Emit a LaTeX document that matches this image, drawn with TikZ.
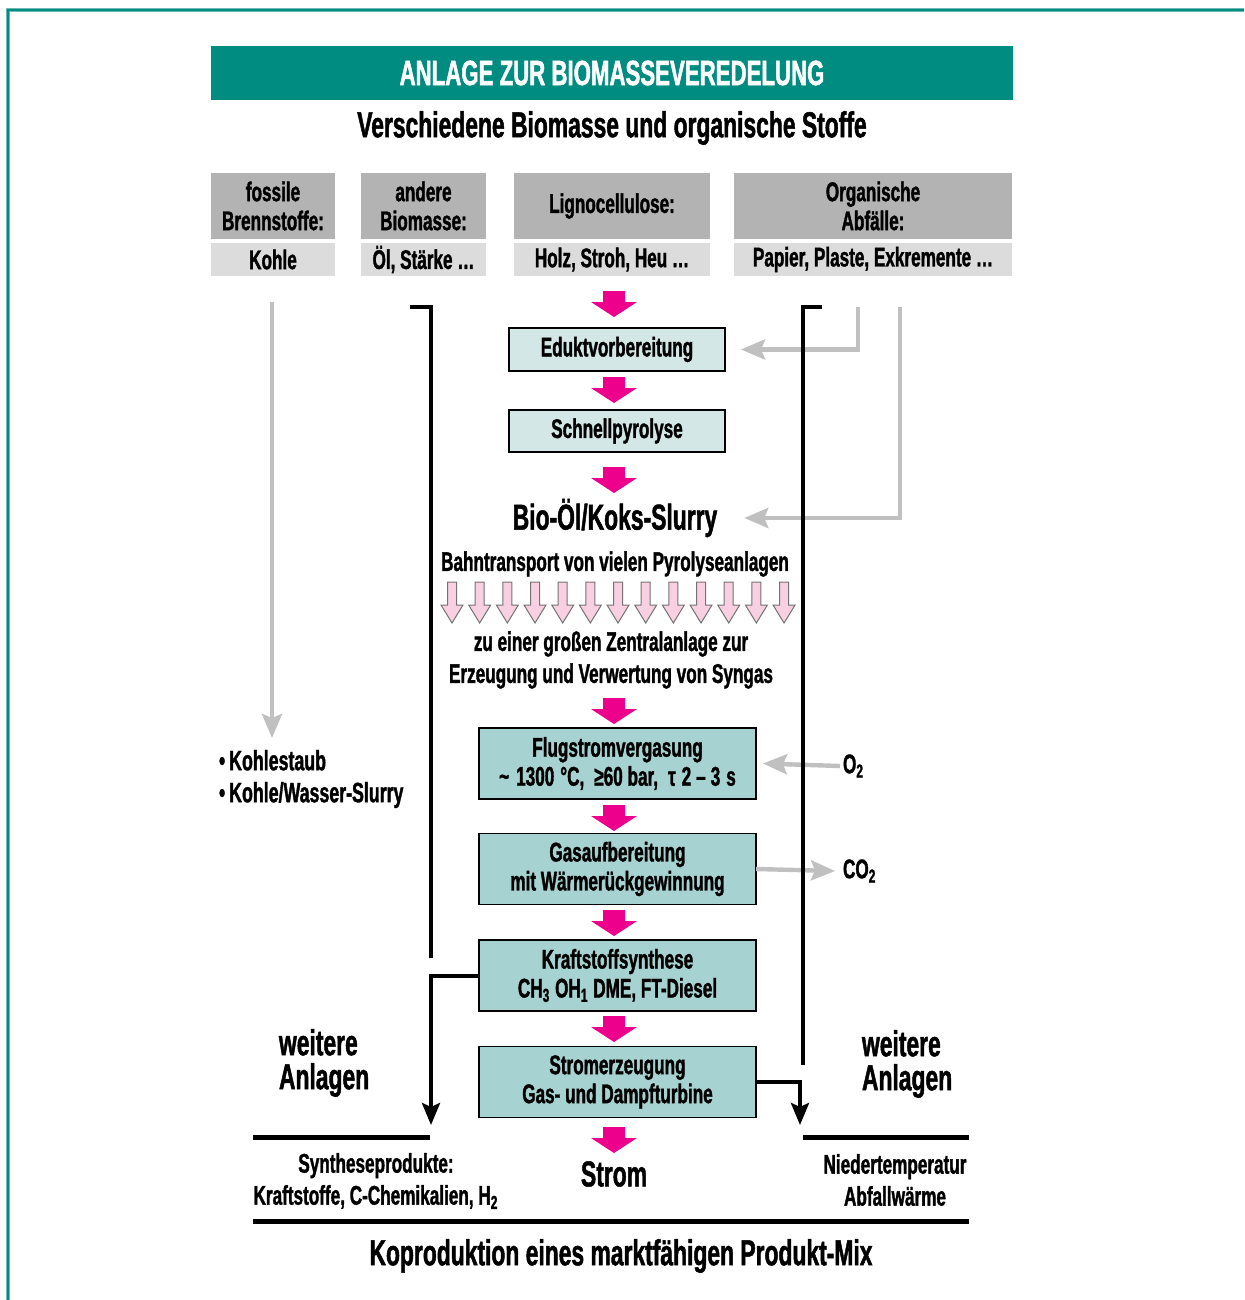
\documentclass[tikz,border=0pt]{standalone}
\usepackage{fontspec}
\setmainfont{Liberation Sans}[FakeStretch=0.635, BoldFeatures={FakeBold=1.3}]
\usetikzlibrary{arrows.meta,calc}
\definecolor{tealA}{HTML}{008C80}
\definecolor{boxlight}{HTML}{D3E8E6}
\definecolor{boxmid}{HTML}{A6D3D1}
\definecolor{catdark}{HTML}{B3B3B3}
\definecolor{catlight}{HTML}{DCDCDC}
\definecolor{mag}{HTML}{EC008C}
\definecolor{pinkl}{HTML}{F9D0E2}
\definecolor{grayarr}{HTML}{C0C0C0}
\begin{document}
\begin{tikzpicture}[x=0.5pt,y=-0.5pt,
  every node/.style={inner sep=0pt, outer sep=0pt},
  txt/.style={font=\bfseries\fontsize{13.5}{14.5}\selectfont, align=center},
  big/.style={font=\bfseries\fontsize{18}{17}\selectfont, align=center},
  cattop/.style={fill=catdark, minimum height=33pt, txt},
  catbot/.style={fill=catlight, minimum height=16.5pt, txt},
  procA/.style={draw=black, line width=0.8pt, fill=boxlight, minimum width=108pt, minimum height=21.5pt, txt},
  procB/.style={draw=black, line width=0.8pt, fill=boxmid, minimum width=138.5pt, minimum height=35.5pt, txt},
  gline/.style={draw=grayarr, line width=2.2pt, -{Stealth[length=12pt,width=10pt,inset=2pt]}},
  bline/.style={draw=black, line width=2pt},
  barrow/.style={draw=black, line width=2pt, -{Stealth[length=11pt,width=9pt,inset=2pt]}},
  rule/.style={draw=black, line width=2.5pt},
  magarrow/.pic={\fill[mag] (-11,0) -- (11,0) -- (11,11) -- (23,11) -- (0,26) -- (-23,11) -- (-11,11) -- cycle;},
  pinkarrow/.pic={\draw[draw=black!55, fill=pinkl, line width=0.5pt] (-4.5,0) -- (4.5,0) -- (4.5,23) -- (11,23) -- (0,41) -- (-11,23) -- (-4.5,23) -- cycle;}
]
\useasboundingbox (0,0) rectangle (1244,1300);
% frame
\draw[tealA!60, line width=2pt] (8,1300) -- (8,10) -- (1244,10);
\draw[tealA, line width=1pt] (8,1300) -- (8,10) -- (1244,10);
% header
\node[fill=tealA, minimum width=401pt, minimum height=27pt, text=white, font=\bfseries\fontsize{17.5}{18}\selectfont] (head) at (612,73) {ANLAGE ZUR BIOMASSEVEREDELUNG};
\node[big] (sub) at (612,128) {Verschiedene Biomasse und organische Stoffe};
% categories
\node[cattop, minimum width=62pt] (c1t) at (273,206) {fossile\\Brennstoffe:};
\node[catbot, minimum width=62pt] (c1b) at (273,259.5) {Kohle};
\node[cattop, minimum width=62.5pt] (c2t) at (423.5,206) {andere\\Biomasse:};
\node[catbot, minimum width=62.5pt] (c2b) at (423.5,259.5) {Öl, Stärke …};
\node[cattop, minimum width=98pt] (c3t) at (612,206) {Lignocellulose:};
\node[catbot, minimum width=98pt] (c3b) at (612,259.5) {Holz, Stroh, Heu …};
\node[cattop, minimum width=139pt] (c4t) at (873,206) {Organische\\Abfälle:};
\node[catbot, minimum width=139pt] (c4b) at (873,259.5) {Papier, Plaste, Exkremente …};
% process chain
\node[procA] (edukt) at (617,349.5) {Eduktvorbereitung};
\node[procA, minimum height=21pt] (schnell) at (617,431) {Schnellpyrolyse};
\node[big] (bio) at (615,518) {Bio-Öl/Koks-Slurry};
\node[txt] (bahn) at (615,564) {Bahntransport von vielen Pyrolyseanlagen};
\node[txt, font=\bfseries\fontsize{13.5}{16}\selectfont] (zentral) at (611,660) {zu einer großen Zentralanlage zur\\Erzeugung und Verwertung von Syngas};
\node[procB] (flug) at (617.5,763.5) {Flugstromvergasung\\\textasciitilde\hspace{3.5pt}1300\hspace{3pt}°C,\hspace{5pt}≥60 bar,\hspace{5pt}τ\hspace{3pt}2\hspace{2.5pt}–\hspace{2.5pt}3\hspace{3pt}s};
\node[procB] (gas) at (617.5,869) {Gasaufbereitung\\mit Wärmerückgewinnung};
\node[procB] (kraft) at (617.5,975.5) {Kraftstoffsynthese\\CH\textsubscript{3} OH\textsubscript{1} DME, FT-Diesel};
\node[procB] (stromb) at (617.5,1082) {Stromerzeugung\\Gas- und Dampfturbine};
\node[big] (strom) at (614,1174) {Strom};
% magenta arrows
\foreach \yy in {291,377,467,698,805,910,1016,1127} \pic at (614,\yy) {magarrow};
% pink outline arrows
\foreach \i in {0,...,12} \pic at ({452+27.67*\i},582) {pinkarrow};
% side texts
\node[txt, anchor=west, align=left, font=\bfseries\fontsize{14}{16}\selectfont] (bul) at (219,779) {•\hspace{2pt}Kohlestaub\\•\hspace{2pt}Kohle/Wasser-Slurry};
\node[txt, anchor=west, align=left] (o2) at (843,766) {O\textsubscript{2}};
\node[txt, anchor=west, align=left] (co2) at (843,871) {CO\textsubscript{2}};
\node[big, anchor=west, align=left] (wl) at (279,1063) {weitere\\Anlagen};
\node[big, anchor=west, align=left] (wr) at (862,1064) {weitere\\Anlagen};
\node[txt, font=\bfseries\fontsize{13.5}{16}\selectfont] (synth) at (376,1181) {Syntheseprodukte:\\Kraftstoffe, C-Chemikalien, H\textsubscript{2}};
\node[txt, font=\bfseries\fontsize{13.5}{16}\selectfont] (nieder) at (895,1180) {Niedertemperatur\\Abfallwärme};
\node[big] (kopro) at (621,1256) {Koproduktion eines marktfähigen Produkt-Mix};
% gray connectors
\coordinate (g1s) at (272,302);
\coordinate (g1e) at (272,738);
\draw[gline] (g1s) -- (g1e);
\coordinate (g2s) at (858,307);
\coordinate (g3s) at (900,307);
\draw[gline] (g2s) |- ([xshift=8pt]edukt.east);
\draw[gline] (g3s) |- ([xshift=13.5pt]bio.east);
\draw[gline] ([xshift=-1.5pt]o2.west) -- ([xshift=3.5pt]flug.east);
\draw[gline] (gas.east) -- ([xshift=-4pt]co2.west);
% black brackets
\coordinate (lb1) at (410,307);
\coordinate (lb2) at (431,307);
\coordinate (lb3) at (431,958);
\draw[bline] (lb1) -- (lb2) -- (lb3);
\coordinate (rb1) at (822,307);
\coordinate (rb2) at (803,307);
\coordinate (rb3) at (803,1065);
\draw[bline] (rb1) -- (rb2) -- (rb3);
\coordinate (lt) at (431,1125);
\coordinate (rt) at (800,1125);
\draw[barrow] (kraft.west) -| (lt);
\draw[barrow] (stromb.east) -| (rt);
% rules
\coordinate (r1a) at (253,1137); \coordinate (r1b) at (430,1137);
\coordinate (r2a) at (803,1137); \coordinate (r2b) at (969,1137);
\coordinate (r3a) at (253,1221); \coordinate (r3b) at (969,1221);
\draw[rule] (r1a) -- (r1b);
\draw[rule] (r2a) -- (r2b);
\draw[rule] (r3a) -- (r3b);
\end{tikzpicture}
\end{document}
